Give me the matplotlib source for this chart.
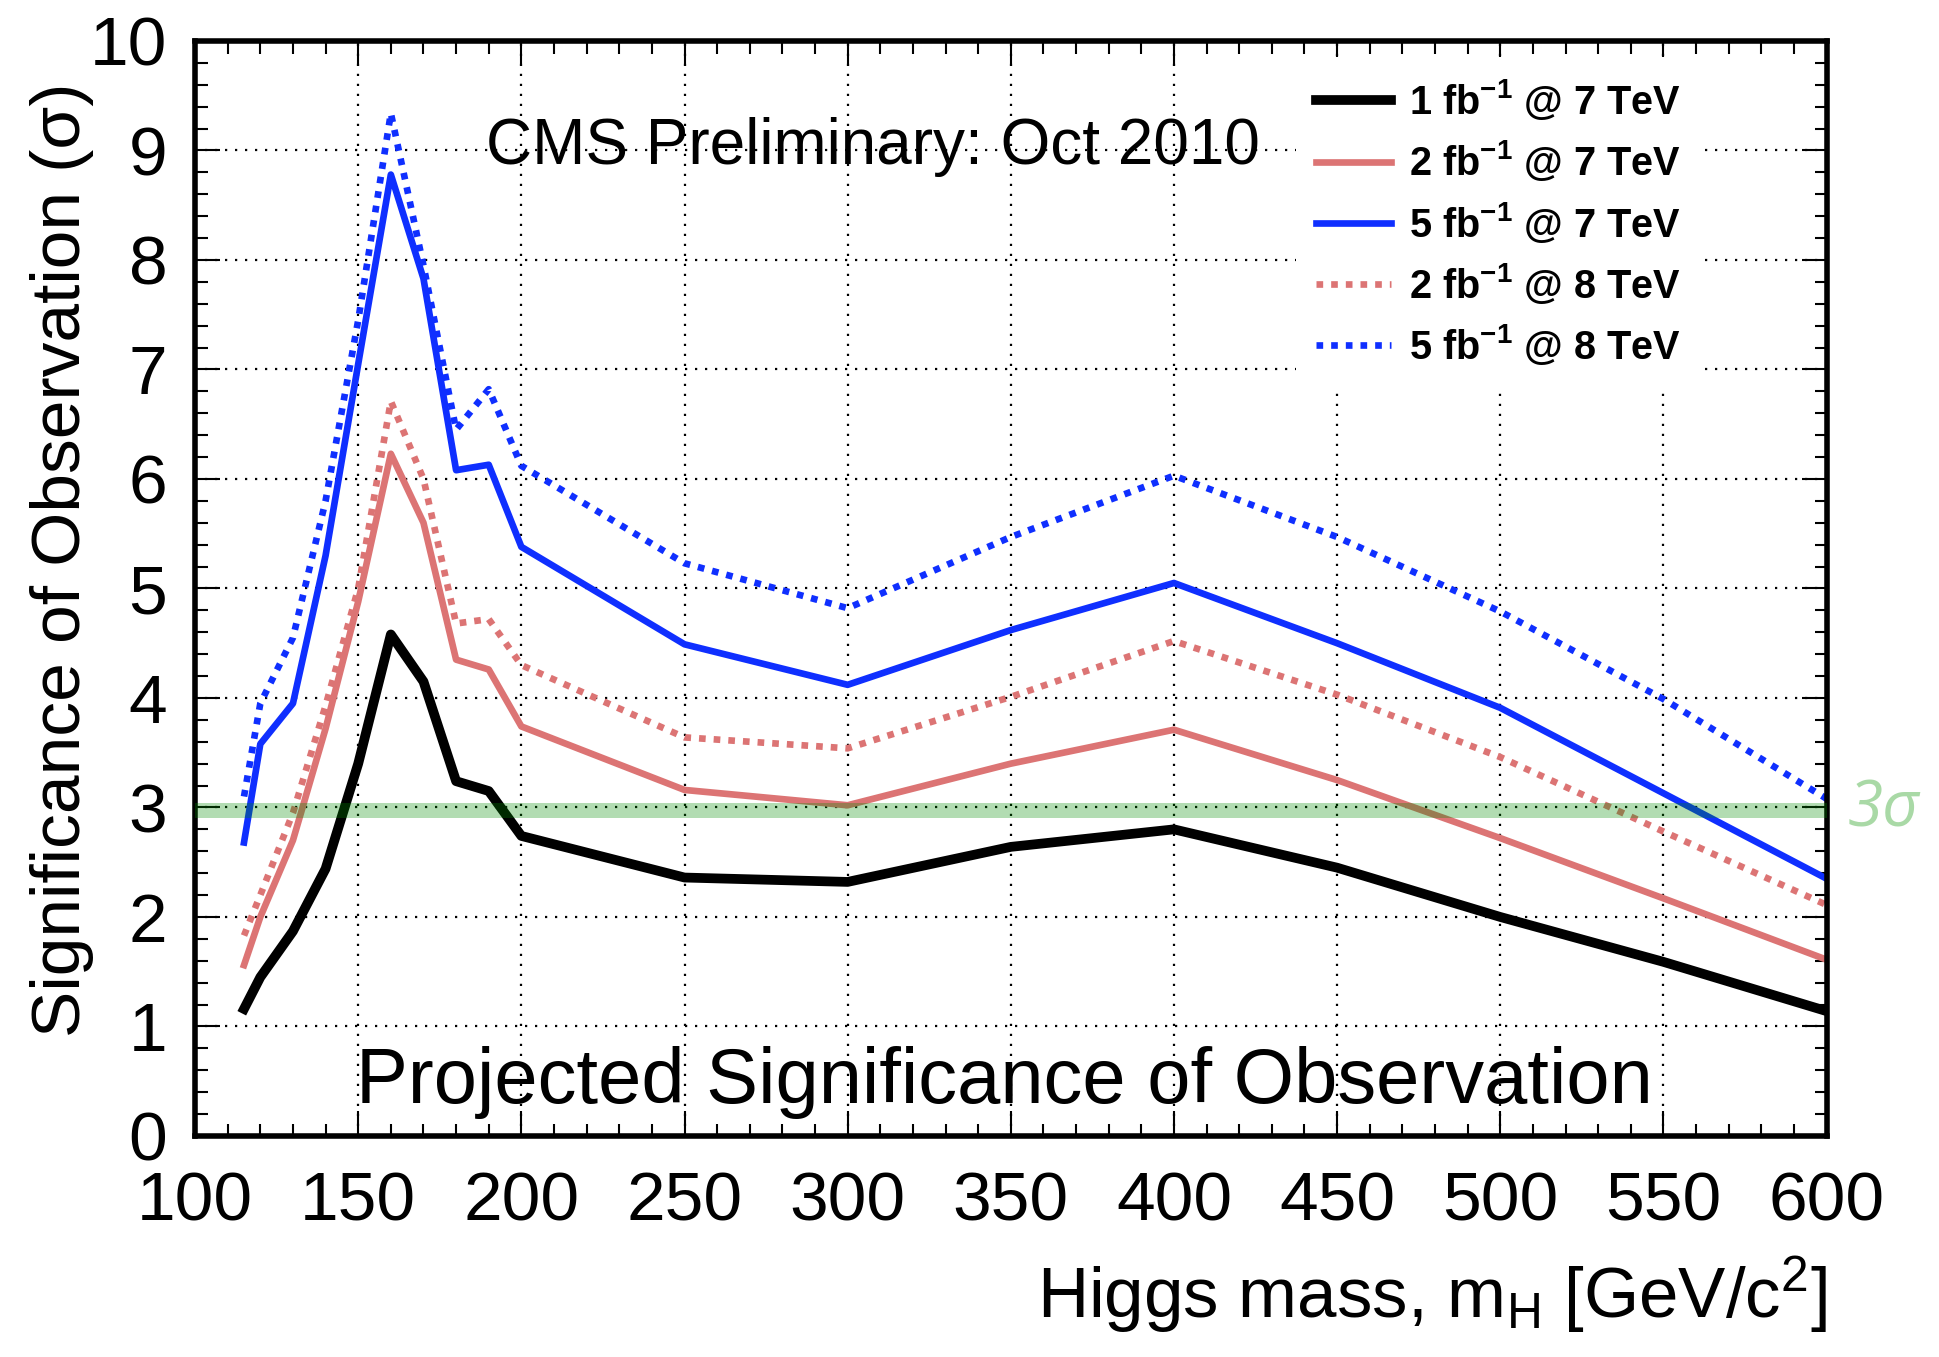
import matplotlib
matplotlib.use("Agg")
import matplotlib.pyplot as plt
from matplotlib.ticker import MultipleLocator

plt.rcParams["font.family"] = ["Liberation Sans", "DejaVu Sans"]
plt.rcParams["mathtext.fontset"] = "custom"
plt.rcParams["mathtext.rm"] = "Liberation Sans"
plt.rcParams["mathtext.it"] = "Liberation Sans:italic"
plt.rcParams["mathtext.bf"] = "Liberation Sans:bold"

# Higgs mass points [GeV/c^2]
mass = [115, 120, 130, 140, 150, 160, 170, 180, 190, 200,
        250, 300, 350, 400, 450, 500, 550, 600]

# projected significance (sigma) per scenario
sig_1fb_7tev = [1.16, 1.45, 1.87, 2.44, 3.40, 4.58, 4.15, 3.24, 3.15, 2.74,
                2.36, 2.32, 2.64, 2.80, 2.45, 2.00, 1.59, 1.14]
sig_2fb_7tev = [1.56, 2.00, 2.70, 3.72, 4.88, 6.23, 5.60, 4.35, 4.26, 3.74,
                3.16, 3.02, 3.40, 3.71, 3.25, 2.72, 2.17, 1.61]
sig_5fb_7tev = [2.68, 3.58, 3.95, 5.30, 7.05, 8.78, 7.83, 6.08, 6.13, 5.38,
                4.49, 4.12, 4.62, 5.05, 4.50, 3.91, 3.13, 2.35]
sig_2fb_8tev = [1.83, 2.20, 2.95, 3.93, 5.00, 6.71, 6.00, 4.68, 4.72, 4.30,
                3.64, 3.54, 4.01, 4.52, 4.03, 3.46, 2.78, 2.11]
sig_5fb_8tev = [3.10, 3.95, 4.55, 5.80, 7.45, 9.34, 7.95, 6.45, 6.82, 6.12,
                5.23, 4.82, 5.47, 6.03, 5.47, 4.79, 3.99, 3.08]

labels = [r"1 fb$^{\mathbf{-1}}$ @ 7 TeV",
          r"2 fb$^{\mathbf{-1}}$ @ 7 TeV",
          r"5 fb$^{\mathbf{-1}}$ @ 7 TeV",
          r"2 fb$^{\mathbf{-1}}$ @ 8 TeV",
          r"5 fb$^{\mathbf{-1}}$ @ 8 TeV"]

red = "#dc7474"
blue = "#0f2fff"
dots = (0, (1, 1.2))

fig = plt.figure(figsize=(19.39, 13.57), dpi=100)
ax = fig.add_axes([0.1006, 0.1629, 0.8414, 0.8069])

ax.plot(mass, sig_1fb_7tev, color="black", lw=7.0, label=labels[0])
ax.plot(mass, sig_2fb_7tev, color=red, lw=4.8, label=labels[1])
ax.plot(mass, sig_5fb_7tev, color=blue, lw=4.8, label=labels[2])
ax.plot(mass, sig_2fb_8tev, color=red, lw=4.8, ls=dots,
        dash_capstyle="butt", label=labels[3])
ax.plot(mass, sig_5fb_8tev, color=blue, lw=4.8, ls=dots,
        dash_capstyle="butt", label=labels[4])

# 3 sigma band
ax.axhspan(2.9, 3.04, color=(0.0, 0.55, 0.0), alpha=0.3, lw=0, zorder=5)
ax.text(1.013, 2.98, "3σ", transform=ax.get_yaxis_transform(),
        fontsize=46, color="#a9d9a6", family=["Open Sans", "DejaVu Sans"],
        style="italic", ha="left", va="center", clip_on=False)

ax.set_xlim(100, 600)
ax.set_ylim(0, 10)
ax.xaxis.set_major_locator(MultipleLocator(50))
ax.xaxis.set_minor_locator(MultipleLocator(10))
ax.yaxis.set_major_locator(MultipleLocator(1))
ax.yaxis.set_minor_locator(MultipleLocator(0.2))

ax.set_axisbelow(True)
ax.grid(True, which="major", color="black", ls=(0, (1, 3.5)), lw=1.6)

ax.tick_params(which="both", direction="in", top=True, right=True,
               width=1.5, labelsize=50)
ax.tick_params(which="major", length=18)
ax.tick_params(which="minor", length=9)
ax.tick_params(axis="x", pad=25)
ax.tick_params(axis="y", pad=20)
for sp in ax.spines.values():
    sp.set_linewidth(4)

ax.set_xlabel(r"Higgs mass, m$_{\mathrm{H}}$ [GeV/c$^{2}$]", fontsize=51,
              loc="right")
ax.xaxis.set_label_coords(1.0, -0.108)
ax.set_ylabel("Significance of Observation (σ)", fontsize=50, loc="top")
ax.yaxis.set_label_coords(-0.062, 0.962)

ax.text(307.6, 8.88, "CMS Preliminary: Oct 2010", fontsize=46,
        ha="center", va="baseline")
ax.text(348, 0.30, "Projected Significance of Observation", fontsize=56,
        ha="center", va="baseline")

leg = ax.legend(loc="upper left", bbox_to_anchor=(0.675, 0.985),
                prop={"weight": "bold", "size": 28.5},
                handlelength=1.9, handletextpad=0.45, labelspacing=0.41,
                borderpad=0.5, borderaxespad=0, frameon=True,
                fancybox=False, edgecolor="none", facecolor="white",
                framealpha=1)
leg.set_zorder(10)

fig.savefig("out.png", dpi=100)
